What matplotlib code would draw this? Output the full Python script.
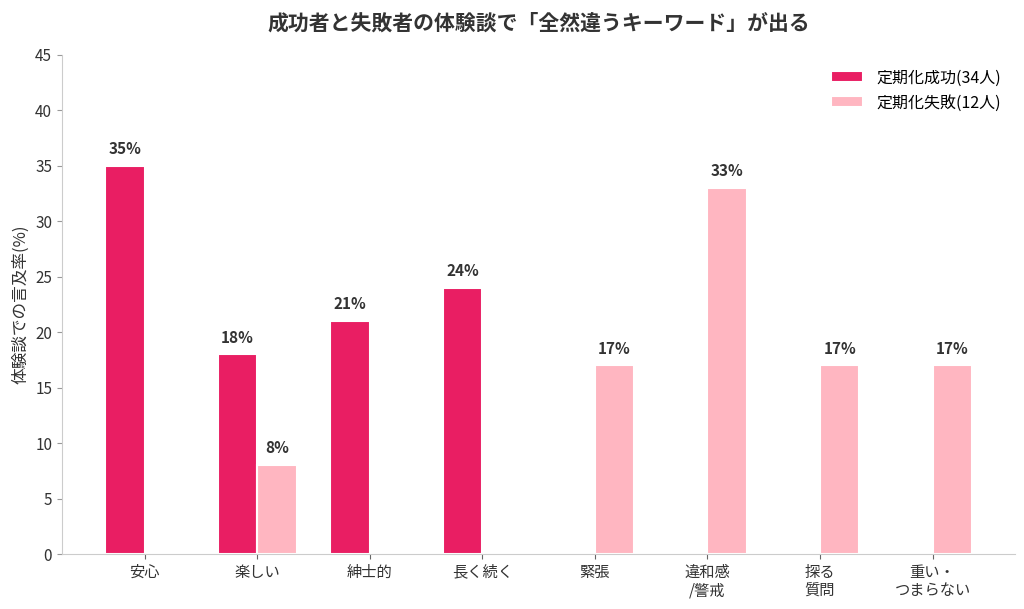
import matplotlib

matplotlib.use("Agg")
import matplotlib.pyplot as plt
import numpy as np

plt.rcParams["font.family"] = ["Noto Sans CJK JP", "DejaVu Sans"]

categories = ["安心", "楽しい", "紳士的", "長く続く", "緊張", "違和感\n/警戒", "探る\n質問", "重い・\nつまらない"]
success = [35, 18, 21, 24, 0, 0, 0, 0]
failure = [0, 8, 0, 0, 17, 33, 17, 17]
success_label = "定期化成功(34人)"
failure_label = "定期化失敗(12人)"

x = np.arange(len(categories))
w = 0.35

fig = plt.figure(figsize=(10.24, 6.09), dpi=100)
ax = fig.add_axes([0.0605, 0.0903, 0.931, 0.8194])

b1 = ax.bar(x - w / 2, success, w, color="#E91E63", edgecolor="white", linewidth=1.5, label=success_label)
b2 = ax.bar(x + w / 2, failure, w, color="#FFB6C1", edgecolor="white", linewidth=1.5, label=failure_label)

# 0% の棒にはラベルを付けない
for bars, vals in ((b1, success), (b2, failure)):
    for rect, v in zip(bars, vals):
        if v > 0:
            ax.text(rect.get_x() + rect.get_width() / 2, v + 0.8, f"{v}%",
                    ha="center", va="bottom", fontsize=11, fontweight="bold", color="#333333")

ax.set_ylim(0, 45)
ax.set_yticks(range(0, 46, 5))
ax.set_xticks(x)
ax.set_xticklabels(categories, fontsize=11, color="#333333", linespacing=1.1)
ax.tick_params(axis="y", labelsize=11, labelcolor="#333333", color="#999999")
ax.tick_params(axis="x", color="#666666")
ax.set_ylabel("体験談での言及率(%)", fontsize=12, color="#333333")
ax.set_title("成功者と失敗者の体験談で「全然違うキーワード」が出る",
             fontsize=15, fontweight="bold", color="#333333", pad=18)

for s in ("top", "right"):
    ax.spines[s].set_visible(False)
for s in ("left", "bottom"):
    ax.spines[s].set_color("#CCCCCC")

ax.legend(frameon=False, fontsize=11.5, loc="upper right", handlelength=2.0)

fig.savefig("out.png", dpi=100)
